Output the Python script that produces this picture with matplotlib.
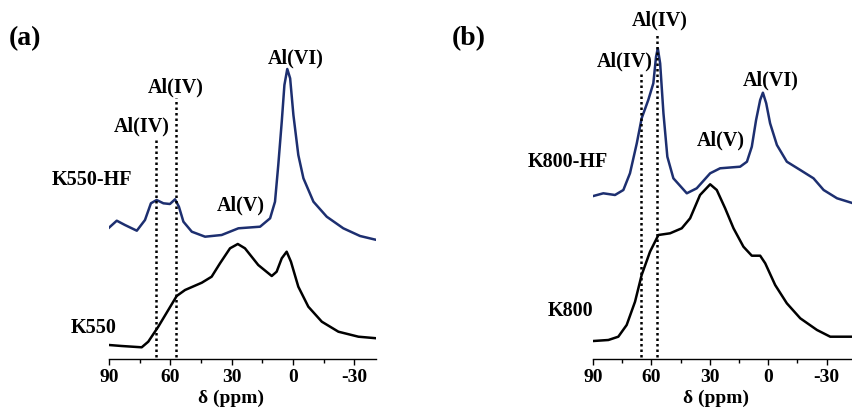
import matplotlib.pyplot as plt
import numpy as np

# 字体
plt.rcParams["font.family"] = ["Liberation Serif", "DejaVu Serif"]
plt.rcParams["font.weight"] = "bold"
plt.rcParams["axes.unicode_minus"] = False
plt.rcParams["lines.solid_joinstyle"] = "round"

# (a) K550-HF
a_hf_x = [90, 86.2, 82.2, 76.4, 72.4, 69.5, 66.7, 63.4, 60.2, 57.7, 55.8, 53.6, 49.5, 43, 34.9, 26.7,
          16.1, 11.2, 8.8, 7.2, 5.5, 4.2, 2.8, 1.4, -0.2, -2.6, -5.1, -10, -16.5, -24.6, -32.8, -41]
a_hf_y = [131.3, 138.3, 134, 128.3, 139, 155.7, 159, 155.7, 155, 159.7, 152.3, 137.3, 127.3, 122.3, 124, 130.7,
          132.3, 140.7, 157.3, 194, 237.3, 274, 290, 280.7, 244, 204, 180.7, 157.3, 142.3, 130.7, 123, 119]
# (a) K550
a_x = [90, 83.8, 74, 70.8, 65.9, 61, 56.9, 52.8, 44.6, 39.8, 35.7, 30.8, 27, 23.5, 17,
       10.4, 8, 5.5, 3.1, 1, -2.6, -7.5, -14.1, -22.2, -32, -41]
a_y = [14, 13, 11.7, 17.3, 32.3, 49, 63, 69, 76.3, 82.3, 95.7, 110.7, 115, 110.7, 94,
       83, 87.3, 100.7, 107.3, 97.3, 72.3, 52.3, 37.3, 27.3, 22.3, 20.7]

# (b) K800-HF
b_hf_x = [89.8, 84.7, 78.7, 74.4, 71, 67.5, 65, 61.6, 59, 57.6, 56.7, 55.5, 53.8, 51.8, 48.7, 41.8,
          36.7, 29.8, 24.7, 14.4, 10.9, 8.4, 6.2, 4.1, 2.7, 1, -1, -4.5, -9.6, -16.5, -23.3, -28.5,
          -35.4, -43.7]
b_hf_y = [163, 165.7, 164, 169, 185.7, 215.7, 240.7, 259, 275.7, 302.3, 310.7, 295.7, 245.7, 202.3, 180.7, 165.7,
          170.7, 185.7, 190.7, 192.3, 197.3, 212.3, 239, 259, 266.3, 255.7, 235.7, 214, 197.3, 189, 180.7, 169,
          160.7, 155.7]
# (b) K800
b_x = [89.8, 82.1, 77, 72.7, 68.4, 65, 60.7, 56.4, 50.4, 44.4, 40.1, 35, 29.8, 26.4, 22.1, 17.8,
       12.7, 8.4, 4.1, 1.5, -3.6, -9.6, -16.5, -25.1, -31.9, -43.7]
b_y = [18, 19, 22.3, 34, 57.3, 84, 107.3, 124, 125.7, 130.7, 140.7, 164, 174.7, 169, 150.7, 130.7,
       112.3, 103.3, 103.3, 95.7, 74, 55.7, 40.7, 29, 22.3, 22.3]

# 虚线位置 (ppm, 顶端高度)
a_dots = [(67.2, 219), (57.2, 260.7)]
b_dots = [(65.5, 287.3), (56.9, 325.7)]

blue = "#1d2f70"
W, H = 853, 409
fig = plt.figure(figsize=(W / 100, H / 100), dpi=100)


def make_ax(left_px, right_px, xmin):
    ax = fig.add_axes([left_px / W, 50 / H, (right_px - left_px) / W, 359 / H])
    ax.set_xlim(90, xmin)
    ax.set_ylim(0, 359)
    for s in ["top", "right", "left"]:
        ax.spines[s].set_visible(False)
    ax.spines["bottom"].set_linewidth(1)
    ax.set_yticks([])
    ax.set_xticks([90, 60, 30, 0, -30])
    ax.set_xticks([75, 45, 15, -15], minor=True)
    ax.tick_params(axis="x", which="major", direction="out", length=4, width=1, labelsize=14, pad=3)
    ax.tick_params(axis="x", which="minor", direction="out", length=3, width=1)
    for t in ax.get_xticklabels():
        t.set_fontweight("bold")
    ax.set_xlabel("δ (ppm)", fontsize=14, fontweight="bold")
    return ax


lab = dict(fontsize=14.5, fontweight="bold", ha="center", va="center")
lw = 1.8

# 图 (a)
ax1 = make_ax(109, 376, -40.6)
ax1.plot(a_hf_x, a_hf_y, color=blue, lw=lw)
ax1.plot(a_x, a_y, color="black", lw=lw)
for x, top in a_dots:
    ax1.plot([x, x], [2, top], color="black", lw=1.8, linestyle=(0, (1, 1.2)))
ax1.xaxis.set_label_coords(0.457, -0.085)
ax1.text(-1.5, 300.7, "Al(VI)", **lab)
ax1.text(57.2, 271.7, "Al(IV)", **lab)
ax1.text(74.2, 232.3, "Al(IV)", **lab)
ax1.text(98.5, 179, "K550-HF", **lab)
ax1.text(25.6, 153.3, "Al(V)", **lab)
ax1.text(97.3, 30.7, "K550", **lab)

# 图 (b)
ax2 = make_ax(593, 853, -43.6)
ax2.plot(b_hf_x, b_hf_y, color=blue, lw=lw)
ax2.plot(b_x, b_y, color="black", lw=lw)
for x, top in b_dots:
    ax2.plot([x, x], [2, top], color="black", lw=1.8, linestyle=(0, (1, 1.2)))
ax2.xaxis.set_label_coords(0.473, -0.085)
ax2.text(55.9, 339, "Al(IV)", **lab)
ax2.text(73.5, 297.3, "Al(IV)", **lab)
ax2.text(-1.4, 279, "Al(VI)", **lab)
ax2.text(24.2, 219, "Al(V)", **lab)
ax2.text(102.7, 196.7, "K800-HF", **lab)
ax2.text(101.5, 48.3, "K800", **lab)

fig.text(25 / W, 1 - 39 / H, "(a)", fontsize=20, fontweight="bold", ha="center", va="center")
fig.text(469 / W, 1 - 39 / H, "(b)", fontsize=20, fontweight="bold", ha="center", va="center")

fig.savefig("out.png", dpi=100)
